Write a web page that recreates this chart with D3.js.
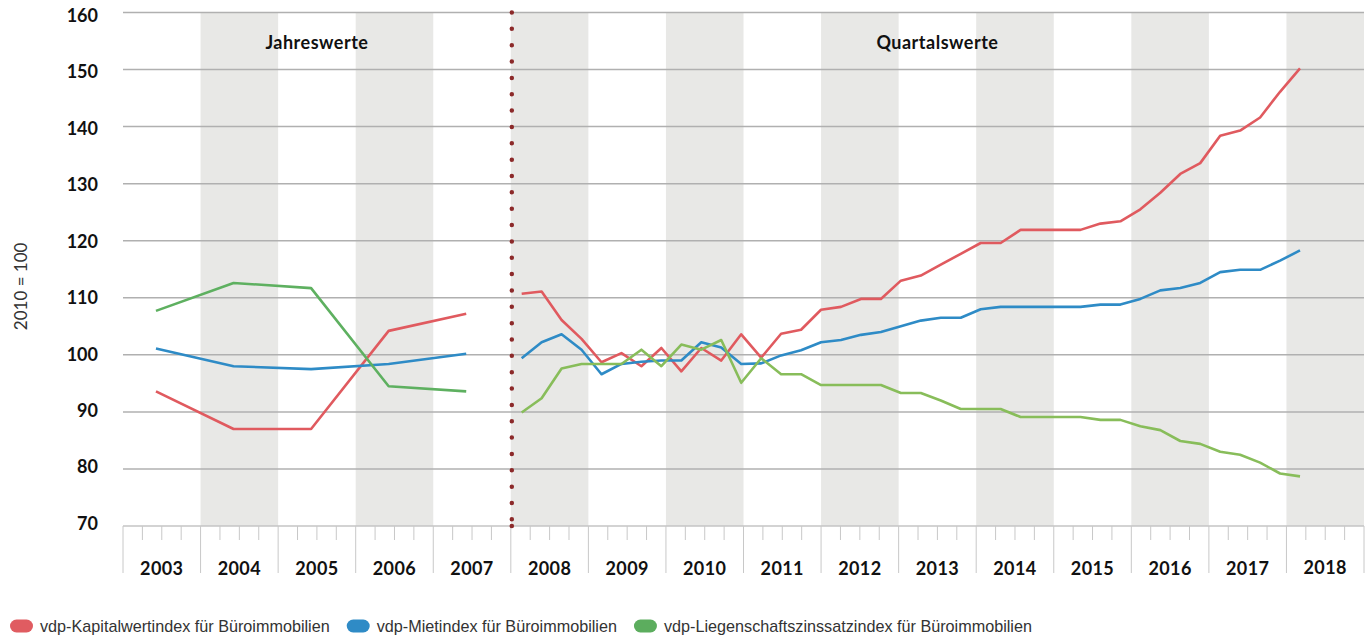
<!DOCTYPE html>
<html>
<head>
<meta charset="utf-8">
<script src="https://cdn.jsdelivr.net/npm/d3@7"></script>
<style>
  body { margin: 0; background: #fff; }
  svg { display: block; font-family: Lato, "Open Sans", sans-serif; }
</style>
</head>
<body>
<svg id="chart" width="1372" height="635"></svg>
<script>
// Data

const yearLabels = ["2003", "2004", "2005", "2006", "2007", "2008", "2009", "2010",
                    "2011", "2012", "2013", "2014", "2015", "2016", "2017", "2018"];
const yTicks = [70, 80, 90, 100, 110, 120, 130, 140, 150, 160];

// Jahreswerte 2003 - 2007
const annualYears = [2003, 2004, 2005, 2006, 2007];
const annualKapital = [93.6, 87.0, 87.0, 104.2, 107.2];
const annualMiete = [101.1, 98.0, 97.5, 98.4, 100.2];
const annualZins = [107.7, 112.6, 111.7, 94.5, 93.6];

// Quartalswerte 2008 Q1 - 2017 Q4
const quarters = d3.range(2008, 2018).flatMap(yr => ["Q1", "Q2", "Q3", "Q4"].map(q => yr + " " + q));
const quarterKapital = [110.7, 111.1, 106.1, 102.8, 98.7, 100.3, 98.0, 101.2, 97.1, 101.2,
                        99.0, 103.6, 99.5, 103.7, 104.4, 107.9, 108.4, 109.8, 109.8, 113.0,
                        113.9, 115.8, 117.7, 119.6, 119.6, 121.9, 121.9, 121.9, 121.9, 123.0,
                        123.4, 125.5, 128.4, 131.7, 133.6, 138.4, 139.3, 141.6, 146.1, 150.2];
const quarterMiete = [99.4, 102.2, 103.6, 100.9, 96.6, 98.4, 98.8, 99.0, 99.0, 102.2,
                      101.3, 98.4, 98.5, 99.9, 100.8, 102.2, 102.6, 103.5, 104.0, 105.0,
                      106.0, 106.5, 106.5, 108.0, 108.4, 108.4, 108.4, 108.4, 108.4, 108.8,
                      108.8, 109.8, 111.3, 111.7, 112.6, 114.5, 114.9, 114.9, 116.5, 118.3];
const quarterZins = [89.9, 92.4, 97.6, 98.4, 98.4, 98.4, 100.9, 98.0, 101.8, 100.9,
                     102.6, 95.1, 99.4, 96.6, 96.6, 94.7, 94.7, 94.7, 94.7, 93.3,
                     93.3, 92.0, 90.5, 90.5, 90.5, 89.1, 89.1, 89.1, 89.1, 88.6,
                     88.6, 87.5, 86.8, 84.9, 84.4, 83.0, 82.5, 81.1, 79.2, 78.7];

const legendItems = [
    { label: "vdp-Kapitalwertindex für Büroimmobilien", color: "#e05c61" },
    { label: "vdp-Mietindex für Büroimmobilien", color: "#2f8bc6" },
    { label: "vdp-Liegenschaftszinssatzindex für Büroimmobilien", color: "#5cad5e" }
];

// Scales

const svg = d3.select("#chart");

const x = d3.scaleLinear()
            .domain([2003, 2019])
            .range([123, 1364]);

const y = d3.scaleLinear()
            .domain([70, 160])
            .range([526, 12.5]);

const xq = d3.scalePoint()
             .domain(quarters)
             .range([x(2008.14), x(2018.175)]);

const years = yearLabels.map(Number);

// Grey bands for even years
svg.append("g")
    .selectAll("rect")
    .data(years.filter(d => d % 2 === 0))
    .enter()
    .append("rect")
    .attr("x", d => x(d))
    .attr("y", y(160))
    .attr("width", d => x(d + 1) - x(d))
    .attr("height", y(70) - y(160))
    .style("fill", "#e8e8e6");

// Horizontal gridlines
svg.append("g")
    .selectAll("line")
    .data(yTicks.filter(d => d > 70))
    .enter()
    .append("line")
    .attr("x1", x(2003))
    .attr("x2", x(2019))
    .attr("y1", d => y(d))
    .attr("y2", d => y(d))
    .style("stroke", "#b0b0b0")
    .style("stroke-width", 1.5);

// Y labels
svg.append("g")
    .selectAll("text")
    .data(yTicks)
    .enter()
    .append("text")
    .attr("x", 98)
    .attr("y", d => y(d) + 3 - (160 - d) * 0.06)
    .attr("dy", "0.35em")
    .attr("text-anchor", "end")
    .style("font-size", "18px")
    .style("font-weight", 700)
    .style("fill", "#111")
    .text(d => d);

svg.append("text")
    .attr("transform", "translate(27," + y(112) + ") rotate(-90)")
    .attr("text-anchor", "middle")
    .style("font-size", "17px")
    .style("fill", "#333")
    .text("2010 = 100");

// Bottom axis: base line, year separators, quarter ticks
const axis = svg.append("g");

axis.append("line")
    .attr("x1", x(2003))
    .attr("x2", x(2019))
    .attr("y1", y(70))
    .attr("y2", y(70))
    .style("stroke", "#c4c4c4")
    .style("stroke-width", 1.5);

axis.selectAll(".sep")
    .data(years.concat([2019]))
    .enter()
    .append("line")
    .attr("class", "sep")
    .attr("x1", d => x(d))
    .attr("x2", d => x(d))
    .attr("y1", y(70))
    .attr("y2", y(70) + 47)
    .style("stroke", "#c8c8c8")
    .style("stroke-width", 1);

axis.selectAll(".qtick")
    .data(years.flatMap(d => [d + 0.25, d + 0.5, d + 0.75]))
    .enter()
    .append("line")
    .attr("class", "qtick")
    .attr("x1", d => x(d))
    .attr("x2", d => x(d))
    .attr("y1", y(70))
    .attr("y2", y(70) + 14)
    .style("stroke", "#c8c8c8")
    .style("stroke-width", 1);

axis.selectAll(".year")
    .data(yearLabels)
    .enter()
    .append("text")
    .attr("class", "year")
    .attr("x", d => x(+d + 0.5))
    .attr("y", d => d === "2018" ? 574 : 575)
    .attr("text-anchor", "middle")
    .style("font-size", "18px")
    .style("font-weight", 700)
    .style("letter-spacing", "0.4px")
    .style("fill", "#111")
    .text(d => d);

// Section titles
svg.selectAll(".section")
    .data([{ t: "Jahreswerte", c: 2005.5 }, { t: "Quartalswerte", c: 2013.5 }])
    .enter()
    .append("text")
    .attr("class", "section")
    .attr("x", d => x(d.c))
    .attr("y", 49)
    .attr("text-anchor", "middle")
    .style("font-size", "18px")
    .style("font-weight", 700)
    .style("letter-spacing", "0.5px")
    .style("fill", "#111")
    .text(d => d.t);

// Dotted divider between annual and quarterly values
svg.append("line")
    .attr("x1", x(2008) + 1)
    .attr("x2", x(2008) + 1)
    .attr("y1", y(160))
    .attr("y2", y(70))
    .style("stroke", "#8c2a2a")
    .style("stroke-width", 4.5)
    .style("stroke-linecap", "round")
    .style("stroke-dasharray", "0 16.35");

svg.append("circle")
    .attr("cx", x(2008) + 1)
    .attr("cy", y(70))
    .attr("r", 2.3)
    .style("fill", "#8c2a2a");

// Lines
const annualLine = d3.line()
    .x((d, i) => x(annualYears[i] + 0.425))
    .y(d => y(d));

const quarterLine = d3.line()
    .x((d, i) => xq(quarters[i]))
    .y(d => y(d));

const series = [
    { annual: annualKapital, quarter: quarterKapital, colorA: "#e05a5f", colorQ: "#e05a5f" },
    { annual: annualMiete, quarter: quarterMiete, colorA: "#2e8bc6", colorQ: "#2e8bc6" },
    { annual: annualZins, quarter: quarterZins, colorA: "#5eb060", colorQ: "#88bd5a" }
];

const lines = svg.append("g");

series.forEach(function(s) {
    lines.append("path")
        .attr("d", annualLine(s.annual))
        .style("fill", "none")
        .style("stroke", s.colorA)
        .style("stroke-width", 2.6)
        .style("stroke-linejoin", "round");

    lines.append("path")
        .attr("d", quarterLine(s.quarter))
        .style("fill", "none")
        .style("stroke", s.colorQ)
        .style("stroke-width", 2.6)
        .style("stroke-linejoin", "round");
});

// Legend
const legend = svg.append("g")
    .attr("transform", "translate(10,626)");

let cursor = 0;
legendItems.forEach(function(item) {
    const g = legend.append("g").attr("transform", "translate(" + cursor + ",0)");

    g.append("rect")
        .attr("x", 0)
        .attr("y", -6.5)
        .attr("width", 23)
        .attr("height", 13)
        .attr("rx", 6.5)
        .style("fill", item.color);

    const t = g.append("text")
        .attr("x", 30)
        .attr("dy", "0.35em")
        .style("font-family", "'Liberation Sans', Arial, sans-serif")
        .style("font-size", "16.2px")
        .style("fill", "#333")
        .text(item.label);

    cursor += 30 + t.node().getComputedTextLength() + 17;
});
</script>
</body>
</html>
